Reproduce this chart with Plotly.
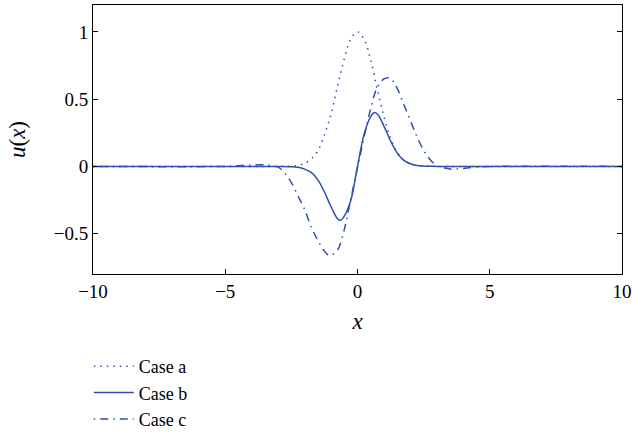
import plotly.graph_objects as go

# ---- data ----
x_a = [-10, -4, -3, -2.5, -2.25, -2, -1.75, -1.5, -1.25, -1, -0.75, -0.5, -0.25, 0,
       0.25, 0.5, 0.75, 1, 1.25, 1.5, 1.75, 2, 2.25, 2.5, 3, 4, 10]
y_a = [0, 0, 0, 0.002, 0.008, 0.022, 0.055, 0.115, 0.235, 0.39, 0.60, 0.80, 0.95, 1.0,
       0.945, 0.79, 0.57, 0.37, 0.21, 0.105, 0.047, 0.018, 0.006, 0.002, 0, 0, 0]

x_b = [-10, -3, -2.5, -2.25, -2, -1.75, -1.5, -1.25, -1, -0.75, -0.64, -0.5, -0.25, 0,
       0.25, 0.5, 0.64, 0.75, 1, 1.25, 1.5, 1.75, 2, 2.25, 2.5, 3, 10]
y_b = [0, 0, -0.002, -0.007, -0.02, -0.045, -0.10, -0.19, -0.30, -0.39, -0.40, -0.37, -0.25, 0,
       0.24, 0.37, 0.40, 0.39, 0.30, 0.19, 0.10, 0.045, 0.02, 0.007, 0.002, 0, 0]

x_c = [-10, -5, -4.5, -4.25, -4, -3.75, -3.5, -3.25, -3, -2.75, -2.5, -2.25, -2, -1.75,
       -1.5, -1.25, -1.1, -1, -0.75, -0.5, -0.25, 0, 0.25, 0.5, 0.75, 1, 1.15, 1.25,
       1.5, 1.75, 2, 2.25, 2.5, 2.75, 3, 3.25, 3.5, 3.75, 4, 4.5, 5, 10]
y_c = [0, 0, 0.005, 0.01, 0.008, 0.012, 0.012, 0.005, -0.005, -0.05, -0.12, -0.22, -0.32, -0.45,
       -0.55, -0.63, -0.66, -0.66, -0.62, -0.47, -0.24, -0.01, 0.22, 0.43, 0.59, 0.65, 0.66, 0.655,
       0.58, 0.46, 0.34, 0.22, 0.12, 0.05, 0.005, -0.01, -0.02, -0.02, -0.015, -0.005, 0, 0]

x_ticks = [-10, -5, 0, 5, 10]
x_tick_text = ["\u221210", "\u22125", "0", "5", "10"]
y_ticks = [-0.5, 0, 0.5, 1]
y_tick_text = ["\u22120.5", "0", "0.5", "1"]

names = ["Case a", "Case b", "Case c"]

# ---- styling ----
BLUE = "#3050B0"
FONT = "Liberation Serif, DejaVu Serif, serif"

fig = go.Figure()
fig.add_trace(go.Scatter(x=x_a, y=y_a, mode="lines", name=names[0], line_shape="spline",
                         line=dict(color=BLUE, width=1.5, dash="1.5px,5px")))
fig.add_trace(go.Scatter(x=x_b, y=y_b, mode="lines", name=names[1], line_shape="spline",
                         line=dict(color=BLUE, width=1.5)))
fig.add_trace(go.Scatter(x=x_c, y=y_c, mode="lines", name=names[2], line_shape="spline",
                         line=dict(color=BLUE, width=1.5, dash="1.5px,5px,8px,5px")))

fig.update_layout(
    width=632, height=435,
    margin=dict(l=93, r=10, t=5, b=161, autoexpand=False),
    paper_bgcolor="white", plot_bgcolor="white",
    font=dict(family=FONT, size=19, color="black"),
    showlegend=True,
    legend=dict(x=-0.008, y=-0.275, xanchor="left", yanchor="top",
                orientation="v", bgcolor="rgba(0,0,0,0)",
                font=dict(family=FONT, size=18, color="black"),
                itemwidth=40, tracegroupgap=0),
    xaxis=dict(range=[-10, 10], tickvals=x_ticks, ticktext=x_tick_text,
               ticks="inside", ticklen=5, tickcolor="black",
               showline=True, linecolor="black", linewidth=1, mirror=True,
               showgrid=False, zeroline=False,
               title=dict(text="<i>x</i>", standoff=12)),
    yaxis=dict(range=[-0.8, 1.2], tickvals=y_ticks, ticktext=y_tick_text,
               ticks="inside", ticklen=5, tickcolor="black",
               showline=True, linecolor="black", linewidth=1, mirror="ticks",
               showgrid=False, zeroline=False,
               title=dict(text="<i>u</i>(<i>x</i>)", standoff=21)),
)

fig.write_html("out.html", config={"displayModeBar": False},
               post_script="document.body.style.margin='0';")
